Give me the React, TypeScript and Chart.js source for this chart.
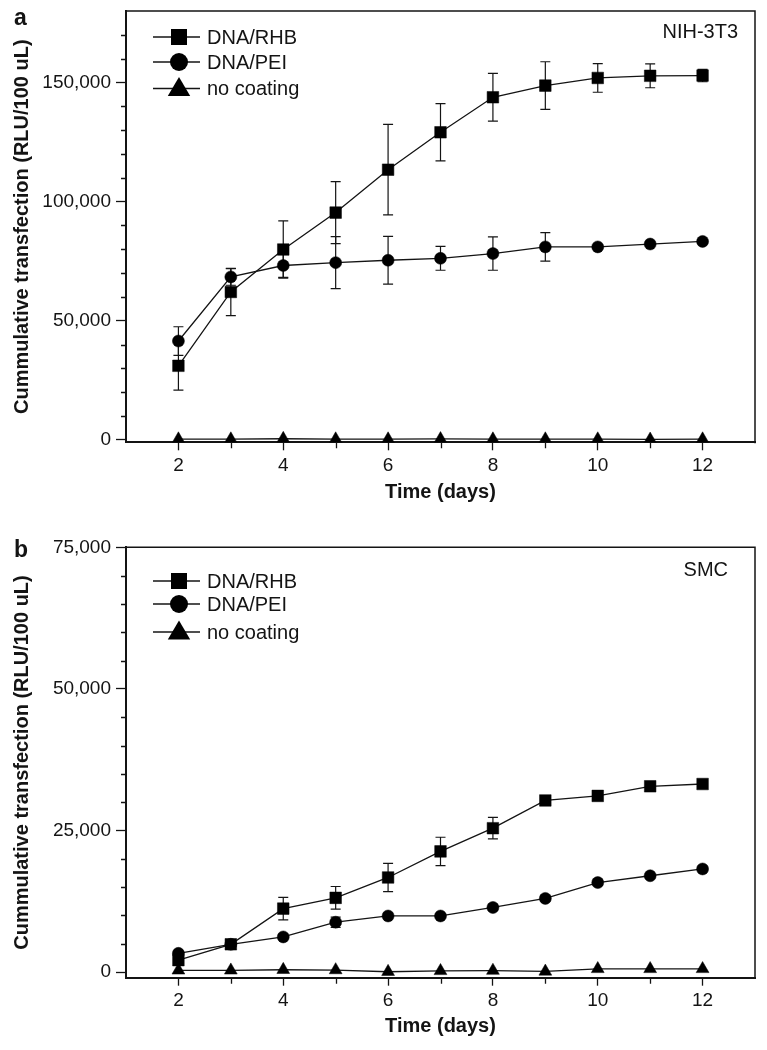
import React, { useEffect, useRef } from 'react';
import { Chart, registerables } from 'chart.js';

Chart.register(...registerables);

// ---------- data ----------
const days = [2, 3, 4, 5, 6, 7, 8, 9, 10, 11, 12];
const seriesLabels = ['DNA/RHB', 'DNA/PEI', 'no coating'];
const seriesStyles = ['rect', 'circle', 'triangle'];

// Panel a: NIH-3T3
const nihRHB = [31100, 62100, 79900, 95400, 113400, 129100, 143800, 148700, 151900, 152800, 152900];
const nihRHBErr = [10200, 9900, 12000, 13000, 19000, 12000, 10000, 10000, 6000, 5000, 2600];
const nihPEI = [41500, 68400, 73200, 74400, 75400, 76200, 78200, 81000, 81000, 82200, 83300];
const nihPEIErr = [6000, 3500, 5000, 10900, 10000, 5000, 7000, 6000, 800, 800, 800];
const nihNone = [300, 300, 500, 300, 300, 400, 300, 300, 300, 200, 300];
const nihNoneErr = [0, 0, 0, 0, 0, 0, 0, 0, 0, 0, 0];

// Panel b: SMC
const smcRHB = [2100, 4900, 11200, 13100, 16700, 21300, 25400, 30300, 31100, 32800, 33200];
const smcRHBErr = [500, 500, 2000, 2000, 2500, 2500, 1900, 600, 500, 500, 600];
const smcPEI = [3300, 4900, 6200, 8800, 9900, 9900, 11400, 13000, 15800, 17000, 18200];
const smcPEIErr = [400, 400, 500, 900, 500, 400, 500, 500, 500, 400, 500];
const smcNone = [300, 300, 400, 350, 50, 200, 250, 100, 550, 550, 550];
const smcNoneErr = [0, 0, 0, 0, 0, 0, 0, 0, 0, 0, 0];

const xMin = 1;
const xMax = 13;
const xLabelDays = [2, 4, 6, 8, 10, 12];
const nihYLabels = [0, 50000, 100000, 150000];
const smcYLabels = [0, 25000, 50000, 75000];
const nihYTicks = { min: -1000, max: 180000, minor: 10000, labels: nihYLabels };
const smcYTicks = { min: -1000, max: 75000, minor: 5000, labels: smcYLabels };

const yTitle = 'Cummulative transfection (RLU/100 uL)';
const xTitle = 'Time (days)';

const FONT = "'Liberation Sans', Arial, Helvetica, sans-serif";
const INK = '#141414';

type PanelCfg = {
  letter: string;
  letterY: number;
  note: string;
  noteRight: number;
  noteBase: number;
  legendRows: number[];
  values: number[][];
  errors: number[][];
  yt: { min: number; max: number; minor: number; labels: number[] };
  padding: { top: number; right: number; bottom: number; left: number };
  xHeight: number;
  xTitlePad: number;
};

function drawMarker(ctx: CanvasRenderingContext2D, style: string, x: number, y: number, s: number) {
  ctx.beginPath();
  if (style === 'rect') {
    ctx.rect(x - s / 2, y - s / 2, s, s);
  } else if (style === 'circle') {
    ctx.arc(x, y, s / 2, 0, Math.PI * 2);
  } else {
    const w = s * 1.18;
    const h = s;
    ctx.moveTo(x, y - h * 0.6);
    ctx.lineTo(x + w / 2, y + h * 0.4);
    ctx.lineTo(x - w / 2, y + h * 0.4);
    ctx.closePath();
  }
  ctx.fill();
}

function makePlugin(cfg: PanelCfg) {
  return {
    id: 'panelDecor' + cfg.letter,
    beforeDatasetsDraw(chart: any) {
      const ctx = chart.ctx as CanvasRenderingContext2D;
      const xs = chart.scales.x;
      const ys = chart.scales.y;
      ctx.save();
      ctx.strokeStyle = INK;
      ctx.lineWidth = 1.2;
      cfg.values.forEach((vals, si) => {
        const errs = cfg.errors[si];
        vals.forEach((v, j) => {
          const e = errs[j];
          if (!e) return;
          const x = xs.getPixelForValue(days[j]);
          const y1 = ys.getPixelForValue(v + e);
          const y2 = ys.getPixelForValue(v - e);
          ctx.beginPath();
          ctx.moveTo(x, y1);
          ctx.lineTo(x, y2);
          ctx.moveTo(x - 5, y1);
          ctx.lineTo(x + 5, y1);
          ctx.moveTo(x - 5, y2);
          ctx.lineTo(x + 5, y2);
          ctx.stroke();
        });
      });
      ctx.restore();
    },
    afterDraw(chart: any) {
      const ctx = chart.ctx as CanvasRenderingContext2D;
      const area = chart.chartArea;
      const xs = chart.scales.x;
      const ys = chart.scales.y;
      ctx.save();
      ctx.strokeStyle = INK;
      // box top & right
      ctx.lineWidth = 1.5;
      ctx.beginPath();
      ctx.moveTo(area.left, area.top);
      ctx.lineTo(area.right, area.top);
      ctx.lineTo(area.right, area.bottom + 1);
      ctx.stroke();
      // minor ticks
      ctx.lineWidth = 1.3;
      ctx.beginPath();
      for (let v = 0; v < cfg.yt.max; v += cfg.yt.minor) {
        if (cfg.yt.labels.includes(v)) continue;
        const y = Math.round(ys.getPixelForValue(v)) + 0.5;
        ctx.moveTo(area.left - 5, y);
        ctx.lineTo(area.left, y);
      }
      for (let d = xMin + 2; d < xMax; d += 2) {
        const x = Math.round(xs.getPixelForValue(d)) + 0.5;
        ctx.moveTo(x, area.bottom);
        ctx.lineTo(x, area.bottom + 6);
      }
      ctx.stroke();

      // legend
      ctx.fillStyle = '#000';
      ctx.lineWidth = 1.5;
      const sizes = [16, 18, 19];
      cfg.legendRows.forEach((ry, i) => {
        ctx.beginPath();
        ctx.moveTo(145, ry);
        ctx.lineTo(192, ry);
        ctx.stroke();
        drawMarker(ctx, seriesStyles[i], 171, ry, sizes[i]);
        ctx.font = `20px ${FONT}`;
        ctx.textBaseline = 'middle';
        ctx.textAlign = 'left';
        ctx.fillStyle = INK;
        ctx.fillText(seriesLabels[i], 199, ry + 1);
        ctx.fillStyle = '#000';
      });

      // cell-line note
      ctx.font = `20px ${FONT}`;
      ctx.textAlign = 'right';
      ctx.textBaseline = 'alphabetic';
      ctx.fillStyle = INK;
      ctx.fillText(cfg.note, cfg.noteRight, cfg.noteBase);

      // panel letter
      ctx.font = `bold 23px ${FONT}`;
      ctx.textAlign = 'left';
      ctx.fillText(cfg.letter, 6, cfg.letterY);
      ctx.restore();
    },
  };
}

function buildConfig(cfg: PanelCfg): any {
  const datasets = cfg.values.map((vals, i) => ({
    label: seriesLabels[i],
    data: vals.map((v, j) => ({ x: days[j], y: v })),
    borderColor: INK,
    borderWidth: 1.3,
    pointStyle: seriesStyles[i],
    pointRadius: i === 0 ? 8.2 : i === 1 ? 6 : 7.4,
    pointBackgroundColor: '#000',
    pointBorderColor: '#000',
    pointBorderWidth: 0.5,
    tension: 0,
    fill: false,
  }));
  return {
    type: 'line',
    data: { datasets },
    plugins: [makePlugin(cfg)],
    options: {
      responsive: false,
      animation: false,
      events: [],
      layout: { padding: cfg.padding },
      plugins: { legend: { display: false }, tooltip: { enabled: false } },
      scales: {
        x: {
          type: 'linear',
          min: xMin,
          max: xMax,
          afterBuildTicks: (s: any) => {
            s.ticks = xLabelDays.map((d) => ({ value: d }));
          },
          afterFit: (s: any) => {
            s.height = cfg.xHeight;
            s.paddingLeft = 0;
            s.paddingRight = 0;
          },
          ticks: {
            autoSkip: false,
            maxRotation: 0,
            padding: 4,
            color: INK,
            font: { family: FONT, size: 19 },
            callback: (v: any) => String(v),
          },
          grid: { drawOnChartArea: false, drawTicks: true, tickLength: 8, tickColor: INK, tickWidth: 1.3 },
          border: { display: true, color: INK, width: 2 },
          title: {
            display: true,
            text: xTitle,
            color: INK,
            font: { family: FONT, size: 20, weight: 'bold' },
            padding: { top: 0, bottom: cfg.xTitlePad },
          },
        },
        y: {
          type: 'linear',
          min: cfg.yt.min,
          max: cfg.yt.max,
          afterBuildTicks: (s: any) => {
            s.ticks = cfg.yt.labels.map((v) => ({ value: v }));
          },
          afterFit: (s: any) => {
            s.width = 118;
            s.paddingTop = 0;
            s.paddingBottom = 0;
          },
          ticks: {
            autoSkip: false,
            padding: 5,
            color: INK,
            font: { family: FONT, size: 19 },
            callback: (v: any) => Number(v).toLocaleString('en-US'),
          },
          grid: { drawOnChartArea: false, drawTicks: true, tickLength: 10, tickColor: INK, tickWidth: 1.3 },
          border: { display: true, color: INK, width: 2 },
          title: {
            display: true,
            text: yTitle,
            color: INK,
            font: { family: FONT, size: 20, weight: 'bold' },
            padding: { top: 2.5, bottom: 0 },
          },
        },
      },
    },
  };
}

// Top canvas sits at page y = 1 (wrapper top -7); bottom canvas at page y = 516.
const panelA: PanelCfg = {
  letter: 'a',
  letterY: 24,
  note: 'NIH-3T3',
  noteRight: 730,
  noteBase: 37,
  legendRows: [36, 61, 87.5],
  values: [nihRHB, nihPEI, nihNone],
  errors: [nihRHBErr, nihPEIErr, nihNoneErr],
  yt: nihYTicks,
  padding: { top: 10, right: 10, bottom: 9.7, left: 0 },
  xHeight: 64,
  xTitlePad: 2.3,
};

const panelB: PanelCfg = {
  letter: 'b',
  letterY: 41,
  note: 'SMC',
  noteRight: 720,
  noteBase: 59.5,
  legendRows: [65, 88, 116],
  values: [smcRHB, smcPEI, smcNone],
  errors: [smcRHBErr, smcPEIErr, smcNoneErr],
  yt: smcYTicks,
  padding: { top: 31.3, right: 10, bottom: 10.3, left: 0 },
  xHeight: 62,
  xTitlePad: 1.2,
};

function Panel({ cfg, height, top }: { cfg: PanelCfg; height: number; top: number }) {
  const ref = useRef<HTMLCanvasElement | null>(null);
  useEffect(() => {
    if (!ref.current) return;
    const chart = new Chart(ref.current, buildConfig(cfg));
    return () => chart.destroy();
  }, [cfg]);
  return (
    <canvas
      ref={ref}
      width={757}
      height={height}
      style={{ position: 'absolute', left: 0, top, width: 757, height, display: 'block' }}
    />
  );
}

export default function App() {
  return (
    <div style={{ position: 'relative', width: 751, height: 1034, background: '#fff' }}>
      <Panel cfg={panelA} height={515} top={-7} />
      <Panel cfg={panelB} height={534} top={508} />
    </div>
  );
}
